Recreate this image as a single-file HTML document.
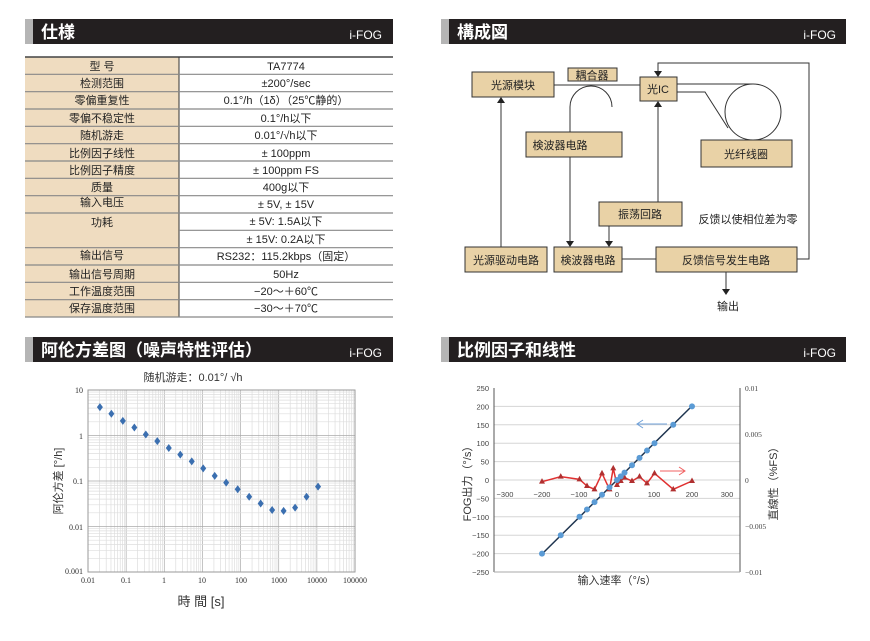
<!DOCTYPE html>
<html><head><meta charset="utf-8"><style>
html,body{margin:0;padding:0;background:#fff;}
svg{display:block;font-family:"Liberation Sans","Noto Sans CJK SC",sans-serif;}
</style></head><body>
<svg width="870" height="641" viewBox="0 0 870 641" xmlns="http://www.w3.org/2000/svg">
<!-- headers -->
<g>
<rect x="25" y="19" width="368" height="25" fill="#231f20"/><rect x="25" y="19" width="8" height="25" fill="#b5b5b5"/>
<text x="41" y="38" fill="#fff" font-size="17" font-weight="bold">仕様</text><text x="382" y="39" fill="#fff" font-size="12" text-anchor="end">i-FOG</text>
<rect x="441" y="19" width="405" height="25" fill="#231f20"/><rect x="441" y="19" width="8" height="25" fill="#b5b5b5"/>
<text x="457" y="38" fill="#fff" font-size="17" font-weight="bold">構成図</text><text x="836" y="39" fill="#fff" font-size="12" text-anchor="end">i-FOG</text>
<rect x="25" y="337" width="368" height="25" fill="#231f20"/><rect x="25" y="337" width="8" height="25" fill="#b5b5b5"/>
<text x="41" y="356" fill="#fff" font-size="17" font-weight="bold">阿伦方差图（噪声特性评估）</text><text x="382" y="357" fill="#fff" font-size="12" text-anchor="end">i-FOG</text>
<rect x="441" y="337" width="405" height="25" fill="#231f20"/><rect x="441" y="337" width="8" height="25" fill="#b5b5b5"/>
<text x="457" y="356" fill="#fff" font-size="17" font-weight="bold">比例因子和线性</text><text x="836" y="357" fill="#fff" font-size="12" text-anchor="end">i-FOG</text>
</g>
<!-- table -->
<g font-size="11" fill="#222" text-anchor="middle">
<rect x="25" y="57" width="154" height="260" fill="#efdcc0"/>
<line x1="25" y1="57" x2="393" y2="57" stroke="#444" stroke-width="1.5"/>
<line x1="179" y1="57" x2="179" y2="317" stroke="#333" stroke-width="1"/>
<g stroke="#888" stroke-width="1.2">
<line x1="25" y1="74.3" x2="393" y2="74.3"/><line x1="25" y1="91.7" x2="393" y2="91.7"/><line x1="25" y1="109" x2="393" y2="109"/><line x1="25" y1="126.3" x2="393" y2="126.3"/><line x1="25" y1="143.7" x2="393" y2="143.7"/><line x1="25" y1="161" x2="393" y2="161"/><line x1="25" y1="178.3" x2="393" y2="178.3"/><line x1="25" y1="195.7" x2="393" y2="195.7"/><line x1="25" y1="213" x2="393" y2="213"/><line x1="179" y1="230.3" x2="393" y2="230.3"/><line x1="25" y1="247.7" x2="393" y2="247.7"/><line x1="25" y1="265" x2="393" y2="265"/><line x1="25" y1="282.3" x2="393" y2="282.3"/><line x1="25" y1="299.7" x2="393" y2="299.7"/><line x1="25" y1="317" x2="393" y2="317"/>
</g>
<text x="102" y="70">型 号</text><text x="286" y="70">TA7774</text>
<text x="102" y="87">检测范围</text><text x="286" y="87">±200°/sec</text>
<text x="102" y="104">零偏重复性</text><text x="286" y="104">0.1°/h（1δ）（25℃静的）</text>
<text x="102" y="122">零偏不稳定性</text><text x="286" y="122">0.1°/h以下</text>
<text x="102" y="139">随机游走</text><text x="286" y="139">0.01°/√h以下</text>
<text x="102" y="157">比例因子线性</text><text x="286" y="157">± 100ppm</text>
<text x="102" y="174">比例因子精度</text><text x="286" y="174">±  100ppm    FS</text>
<text x="102" y="191">质量</text><text x="286" y="191">400g以下</text>
<text x="102" y="206">输入电压</text><text x="286" y="208">± 5V, ± 15V</text>
<text x="102" y="226">功耗</text><text x="286" y="225">± 5V: 1.5A以下</text><text x="286" y="243">± 15V: 0.2A以下</text>
<text x="102" y="259">输出信号</text><text x="286" y="260">RS232：115.2kbps（固定）</text>
<text x="102" y="278">输出信号周期</text><text x="286" y="278">50Hz</text>
<text x="102" y="295">工作温度范围</text><text x="286" y="295">−20～＋60℃</text>
<text x="102" y="312">保存温度范围</text><text x="286" y="312">−30～＋70℃</text>
</g>
<!-- diagram -->
<g stroke="#333" stroke-width="1" fill="none">
<line x1="554" y1="85" x2="640" y2="85"/>
<line x1="677" y1="84" x2="753" y2="84"/>
<polyline points="677,92 705,92 728,128"/>
<circle cx="753" cy="112" r="28"/>
<path d="M570,132 L570,107 A21,21 0 0 1 612,107"/>
<polyline points="797,259 809,259 809,63 658,63 658,72"/>
<line x1="658" y1="202" x2="658" y2="106"/>
<line x1="570" y1="157" x2="570" y2="242"/>
<line x1="609" y1="226" x2="609" y2="242"/>
<line x1="501" y1="247" x2="501" y2="102"/>
<line x1="622" y1="259" x2="656" y2="259"/>
<line x1="726" y1="272" x2="726" y2="290"/>
</g>
<g fill="#222">
<polygon points="654,71 662,71 658,77"/><polygon points="654,107 662,107 658,101"/>
<polygon points="566,241 574,241 570,247"/><polygon points="605,241 613,241 609,247"/>
<polygon points="497,103 505,103 501,97"/><polygon points="722,289 730,289 726,295"/>
</g>
<g fill="#e9d2a6" stroke="#333" stroke-width="1">
<rect x="472" y="72" width="82" height="25"/><rect x="568" y="68" width="49" height="13"/>
<rect x="640" y="77" width="37" height="24"/><rect x="701" y="140" width="91" height="27"/>
<rect x="526" y="132" width="96" height="25"/><rect x="599" y="202" width="83" height="24"/>
<rect x="465" y="247" width="82" height="25"/><rect x="554" y="247" width="68" height="25"/>
<rect x="656" y="247" width="141" height="25"/>
</g>
<g font-size="11" fill="#222" text-anchor="middle">
<text x="513" y="89">光源模块</text><text x="592" y="79">耦合器</text><text x="658" y="93">光IC</text>
<text x="746" y="158">光纤线圈</text><text x="560" y="149">検波器电路</text><text x="640" y="218">振荡回路</text>
<text x="506" y="264">光源驱动电路</text><text x="588" y="264">検波器电路</text><text x="726" y="264">反馈信号发生电路</text>
<text x="748" y="223">反馈以使相位差为零</text><text x="728" y="310">输出</text>
</g>
<!-- allan -->
<g>
<text x="193" y="381" font-size="11" fill="#333" text-anchor="middle">随机游走：0.01°/ √h</text>
<g stroke="#ccc" stroke-width="0.7" id="agrid"></g>
<rect x="88" y="390" width="267" height="182" fill="none" stroke="#999"/>
</g>
<g font-family="Liberation Serif,serif" font-size="8" fill="#333" text-anchor="end">
<text x="83" y="393">10</text><text x="83" y="439">1</text><text x="83" y="484">0.1</text><text x="83" y="530">0.01</text><text x="83" y="574">0.001</text>
</g>
<g font-family="Liberation Serif,serif" font-size="8" fill="#333" text-anchor="middle">
<text x="88" y="583">0.01</text><text x="126" y="583">0.1</text><text x="164" y="583">1</text><text x="202" y="583">10</text><text x="241" y="583">100</text><text x="279" y="583">1000</text><text x="317" y="583">10000</text><text x="355" y="583">100000</text>
</g>
<text x="62" y="481" font-size="11" fill="#333" text-anchor="middle" transform="rotate(-90 62 481)">阿伦方差 [°/h]</text>
<text x="201" y="606" font-size="13" fill="#333" text-anchor="middle">時 間 [s]</text>
<g id="apts" fill="#3b6fb0"></g>
<!-- linearity -->
<g id="lgrid" stroke="#d5d5d5" stroke-width="1"></g>
<line x1="494" y1="388" x2="494" y2="572" stroke="#555"/>
<line x1="740" y1="388" x2="740" y2="572" stroke="#555"/>
<line x1="494" y1="572" x2="740" y2="572" stroke="#aaa"/>
<g font-size="7.5" fill="#444" text-anchor="end" id="lyl"></g>
<g font-size="7.5" fill="#444" font-family="Liberation Serif,serif">
<text x="745" y="391">0.01</text><text x="745" y="437">0.005</text><text x="745" y="483">0</text><text x="745" y="529">−0.005</text><text x="745" y="575">−0.01</text>
</g>
<g font-size="7.5" fill="#444" text-anchor="middle">
<text x="505" y="497">−300</text><text x="542" y="497">−200</text><text x="579" y="497">−100</text><text x="617" y="497">0</text><text x="654" y="497">100</text><text x="692" y="497">200</text><text x="727" y="497">300</text>
</g>
<line x1="542" y1="554" x2="692" y2="406" stroke="#1f3550" stroke-width="1.5"/>
<g id="lpts"></g>
<line x1="637" y1="424" x2="667" y2="424" stroke="#6fa0d8" stroke-width="1"/><polyline points="643,420 637,424 643,428" fill="none" stroke="#6fa0d8"/>
<line x1="660" y1="471" x2="685" y2="471" stroke="#f06060" stroke-width="1"/><polyline points="679,467 685,471 679,475" fill="none" stroke="#f06060"/>
<text x="471" y="481" font-size="11" fill="#333" text-anchor="middle" transform="rotate(-90 471 481)">FOG出力（°/s）</text>
<text x="777" y="481" font-size="11" fill="#333" text-anchor="middle" transform="rotate(-90 777 481)">直線性（%FS）</text>
<text x="617" y="584" font-size="11" fill="#333" text-anchor="middle">输入速率（°/s）</text>
</svg>
<script>
var NS="http://www.w3.org/2000/svg";
function el(p,t,a){var e=document.createElementNS(NS,t);for(var k in a)e.setAttribute(k,a[k]);p.appendChild(e);return e;}
var g=document.getElementById("agrid");
var X=function(v){return 88+(Math.log10(v)+2)*267/7;},Y=function(v){return 390+(1-Math.log10(v))*182/4;};
for(var d=-2;d<5;d++)for(var m=1;m<10;m++){var x=X(m*Math.pow(10,d));el(g,"line",{x1:x,y1:390,x2:x,y2:572,stroke:m==1?"#aaa":"#ddd"});}
for(var d=-3;d<1;d++)for(var m=1;m<10;m++){var y=Y(m*Math.pow(10,d));el(g,"line",{x1:88,y1:y,x2:355,y2:y,stroke:m==1?"#aaa":"#ddd"});}
var av=[4.2,3.0,2.1,1.5,1.05,0.75,0.53,0.38,0.27,0.19,0.13,0.092,0.066,0.045,0.032,0.023,0.022,0.026,0.045,0.075];
var ap=document.getElementById("apts");
av.forEach(function(v,i){var x=X(0.0205*Math.pow(2,i)),y=Y(v);el(ap,"polygon",{points:(x)+","+(y-4)+" "+(x+3)+","+y+" "+x+","+(y+4)+" "+(x-3)+","+y});});
var lg=document.getElementById("lgrid"),ly=document.getElementById("lyl");
for(var i=0;i<=10;i++){var v=250-50*i,y=388+i*18.4;if(i>0&&i<10)el(lg,"line",{x1:494,y1:y,x2:740,y2:y});var t=el(ly,"text",{x:489,y:y+3});t.textContent=(v<0?"−":"")+Math.abs(v);}
var LX=function(v){return 617+v*0.375;},LY=function(v){return 480-v*0.368;};
var lp=document.getElementById("lpts");
var rx=[-200,-150,-100,-80,-60,-40,-20,-10,0,10,20,40,60,80,100,150,200],ry=[320,305,313,333,343,295,343,280,330,318,308,318,305,325,295,343,318];
var pts=rx.map(function(x,i){return LX(x)+","+(375+ry[i]/3);}).join(" ");
el(lp,"polyline",{points:pts,fill:"none",stroke:"#e03030","stroke-width":1.5});
rx.forEach(function(x,i){var cx=LX(x),cy=375+ry[i]/3;el(lp,"polygon",{points:cx+","+(cy-3.5)+" "+(cx+3)+","+(cy+2)+" "+(cx-3)+","+(cy+2),fill:"#b03030"});});
[-200,-150,-100,-80,-60,-40,-20,0,10,20,40,60,80,100,150,200].forEach(function(v){el(lp,"circle",{cx:LX(v),cy:LY(v),r:3,fill:"#5b9bd5"});});
</script>
</body></html>
